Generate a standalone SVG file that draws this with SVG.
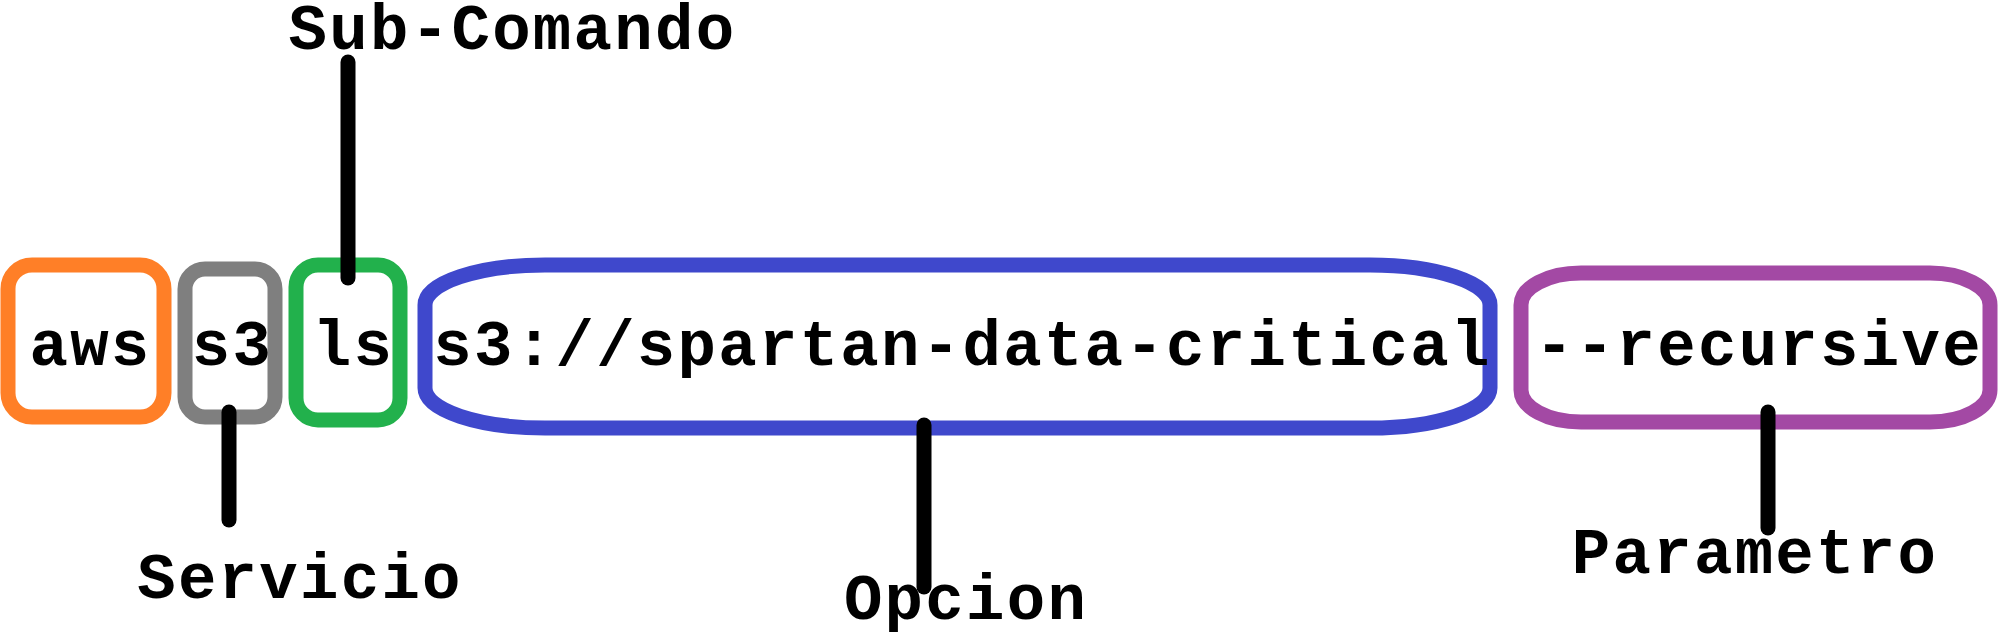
<svg xmlns="http://www.w3.org/2000/svg" width="2000" height="636" viewBox="0 0 2000 636">
<style>
.box{fill:none;stroke-width:15}
.t{font-family:"Liberation Mono","DejaVu Sans Mono",monospace;font-weight:bold;font-size:64px;letter-spacing:2.3px;fill:#000;text-anchor:middle}
.c{stroke:#000;stroke-width:15;stroke-linecap:round;fill:none}
</style>
<rect width="2000" height="636" fill="#fff"/>
<g id="node-aws"><rect class="box" x="8" y="265" width="156" height="152" rx="24" ry="24" stroke="#FF7F27"/><text class="t" x="90.5" y="365">aws</text></g>
<g id="node-s3"><rect class="box" x="185" y="269" width="90" height="148" rx="20" ry="20" stroke="#7F7F7F"/><text class="t" x="232.5" y="365">s3</text></g>
<g id="node-ls"><rect class="box" x="296" y="265" width="104" height="155" rx="22" ry="22" stroke="#22B14C"/><text class="t" x="353.5" y="365">ls</text></g>
<g id="node-uri"><rect class="box" x="425" y="265" width="1065" height="163" rx="120" ry="40" stroke="#3F48CC"/><text class="t" x="962.5" y="365">s3://spartan-data-critical</text></g>
<g id="node-recursive"><rect class="box" x="1521" y="273" width="469" height="149" rx="60" ry="32" stroke="#A349A4"/><text class="t" x="1759" y="365">--recursive</text></g>
<g id="label-subcomando"><text class="t" x="512.5" y="49">Sub-Comando</text></g>
<g id="label-servicio"><text class="t" x="300" y="598">Servicio</text></g>
<g id="label-opcion"><text class="t" x="966" y="619">Opcion</text></g>
<g id="label-parametro"><text class="t" x="1755" y="573">Parametro</text></g>
<g id="connectors">
<line class="c" x1="348" y1="62" x2="348" y2="278"/>
<line class="c" x1="229" y1="412" x2="229" y2="520"/>
<line class="c" x1="924" y1="425" x2="924" y2="587"/>
<line class="c" x1="1768" y1="412" x2="1768" y2="528"/>
</g>
</svg>
